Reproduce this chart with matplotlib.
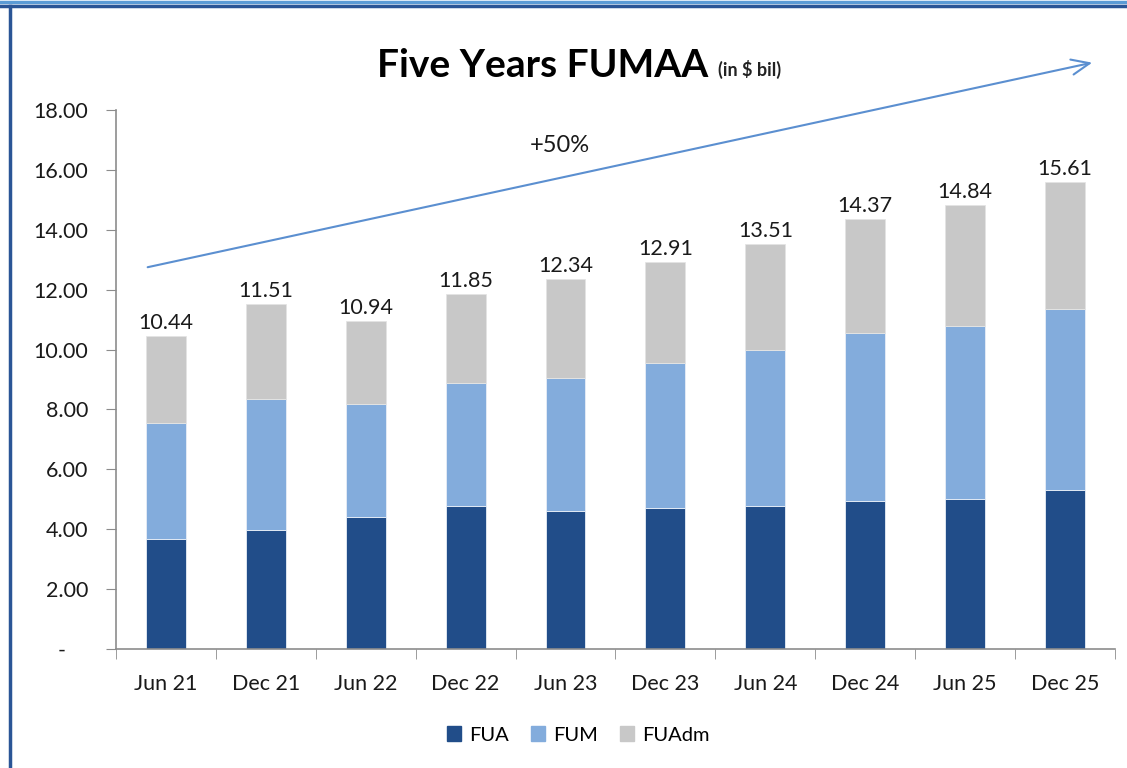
import numpy as np
import matplotlib.pyplot as plt
from matplotlib.patches import Patch

plt.rcParams['font.family'] = ['Lato', 'DejaVu Sans']

# data (in $ bil)
periods = ['Jun 21', 'Dec 21', 'Jun 22', 'Dec 22', 'Jun 23',
           'Dec 23', 'Jun 24', 'Dec 24', 'Jun 25', 'Dec 25']
fua = [3.66, 3.97, 4.40, 4.78, 4.61, 4.71, 4.78, 4.93, 5.00, 5.31]
fum = [3.89, 4.39, 3.79, 4.10, 4.44, 4.84, 5.21, 5.61, 5.77, 6.04]
totals = [10.44, 11.51, 10.94, 11.85, 12.34, 12.91, 13.51, 14.37, 14.84, 15.61]
fuadm = [round(t - a - m, 2) for t, a, m in zip(totals, fua, fum)]

c_fua = '#214d89'
c_fum = '#83acdc'
c_fuadm = '#c8c8c8'
axis_grey = '#8c8c8c'

fig = plt.figure(figsize=(11.27, 7.68), dpi=100)
fig.patch.set_facecolor('white')

# frame lines at top and left
fig.add_artist(plt.Line2D([0, 1], [0.9978, 0.9978], color='#5b9bd5', lw=2.5))
fig.add_artist(plt.Line2D([0, 1], [0.9925, 0.9925], color='#2a5596', lw=2.5))
fig.add_artist(plt.Line2D([0.0085, 0.0085], [0, 0.992], color='#2a5596', lw=2.5))

ax = fig.add_axes([0.1029, 0.1549, 0.8864, 0.7019])
x = np.arange(len(periods))
w = 0.4
ax.bar(x, fua, w, color=c_fua, edgecolor='#e8eef6', linewidth=0.6, label='FUA')
ax.bar(x, fum, w, bottom=fua, color=c_fum, edgecolor='#e8eef6', linewidth=0.6, label='FUM')
bot2 = [a + m for a, m in zip(fua, fum)]
ax.bar(x, fuadm, w, bottom=bot2, color=c_fuadm, edgecolor='#e4e4e4', linewidth=0.6, label='FUAdm')

for xi, t in zip(x, totals):
    ax.text(xi, t + 0.1, f'{t:.2f}', ha='center', va='bottom', fontsize=15.5, color='#1a1a1a')

ax.set_xlim(-0.5, len(periods) - 0.5)
ax.set_ylim(0, 18)
yt = np.arange(0, 19, 2)
ax.set_yticks(yt)
# accounting style zero: dash sits left of the decimal column
ax.set_yticklabels(['-    '] + [f'{v:.2f}' for v in yt[1:]])
ax.set_xticks(x)
ax.set_xticklabels(periods)
ax.set_xticks(np.arange(-0.5, len(periods)), minor=True)
ax.tick_params(axis='x', which='major', length=0, pad=18, labelsize=15.5, colors='#1a1a1a')
ax.tick_params(axis='x', which='minor', length=7, color=axis_grey, direction='out')
ax.tick_params(axis='y', length=7, color=axis_grey, pad=13, labelsize=15.5, labelcolor='#1a1a1a')

for s in ['top', 'right']:
    ax.spines[s].set_visible(False)
for s in ['left', 'bottom']:
    ax.spines[s].set_color(axis_grey)
    ax.spines[s].set_linewidth(1.2)

# growth arrow
ax.annotate('', xy=(9.30, 19.6), xytext=(-0.21, 12.73),
            arrowprops=dict(arrowstyle='->,head_length=1.3,head_width=0.55',
                            color='#5b8fd0', lw=1.5),
            annotation_clip=False)
ax.text(3.94, 16.83, '+50%', ha='center', va='center', fontsize=17, color='#1a1a1a')

# title
fig.text(0.3345, 0.915, 'Five Years FUMAA', fontsize=28, fontweight='bold',
         ha='left', va='center', color='black')
fig.text(0.637, 0.909, '(in $ bil)', fontsize=13, fontweight='bold',
         ha='left', va='center', color='#222222')

handles = [Patch(color=c_fua, label='FUA'), Patch(color=c_fum, label='FUM'),
           Patch(color=c_fuadm, label='FUAdm')]
fig.legend(handles=handles, loc='center', bbox_to_anchor=(0.513, 0.043), ncol=3,
           frameon=False, fontsize=14.5, handlelength=0.7, handleheight=0.7,
           handletextpad=0.4, columnspacing=1.1)

fig.savefig('out.png', dpi=100)
